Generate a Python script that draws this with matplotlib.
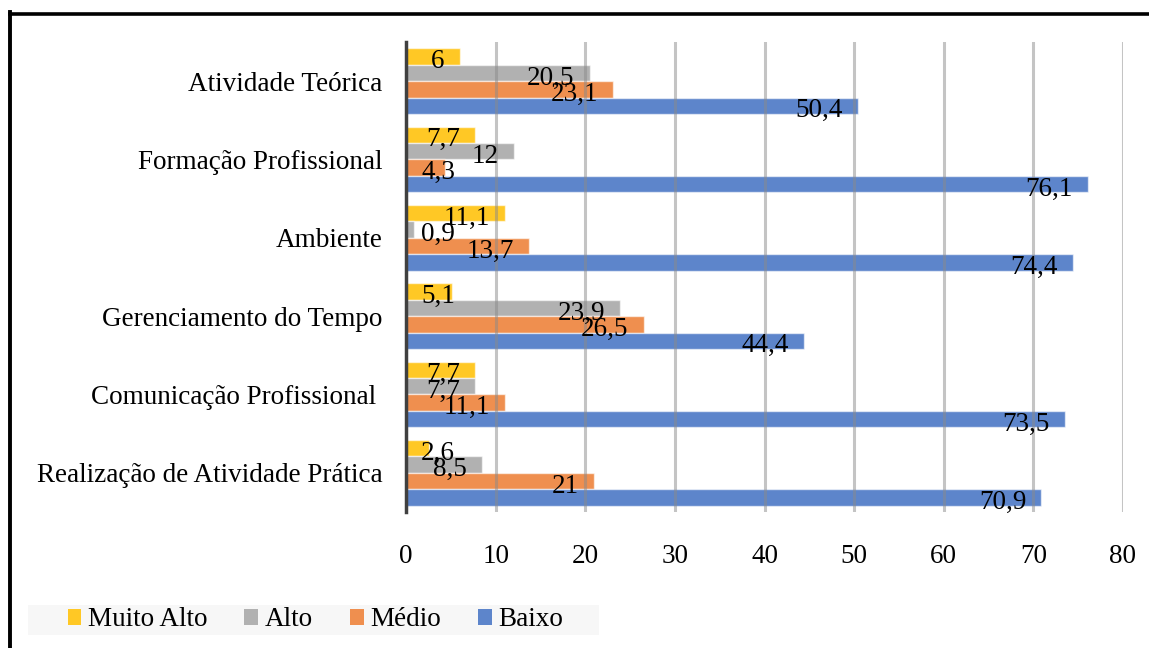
import matplotlib
matplotlib.use("Agg")
import matplotlib.pyplot as plt
from matplotlib.patches import Rectangle, Patch
from matplotlib.lines import Line2D
import numpy as np

plt.rcParams['font.family'] = ['Liberation Serif', 'DejaVu Serif']

categories = ["Atividade Teórica", "Formação Profissional", "Ambiente",
              "Gerenciamento do Tempo", "Comunicação Profissional ",
              "Realização de Atividade Prática"]
series_names = ["Muito Alto", "Alto", "Médio", "Baixo"]
muito_alto = [6, 7.7, 11.1, 5.1, 7.7, 2.6]
alto = [20.5, 12, 0.9, 23.9, 7.7, 8.5]
medio = [23.1, 4.3, 13.7, 26.5, 11.1, 21]
baixo = [50.4, 76.1, 74.4, 44.4, 73.5, 70.9]
xticks = [0, 10, 20, 30, 40, 50, 60, 70, 80]
colors = ["#FFC825", "#B1B1B1", "#EF8F4F", "#5D85CB"]

W, H = 1149, 648
fig = plt.figure(figsize=(W / 100, H / 100), dpi=100)

def fx(px):
    return px / W

def fy(py):
    return 1 - py / H

FS = 19.5

ax = fig.add_axes([fx(406), fy(512), fx(1123) - fx(406), fy(42) - fy(512)])

series = [muito_alto, alto, medio, baixo]
bh = 0.21
offsets = [-0.315, -0.105, 0.105, 0.315]
y = np.arange(len(categories))
for s, vals in enumerate(series):
    ax.barh(y + offsets[s], vals, height=bh, color=colors[s],
            edgecolor=(1, 1, 1, 0.6), linewidth=1.0, zorder=2)

ax.set_xlim(0, 80)
ax.set_ylim(len(categories) - 0.5, -0.5)
ax.set_xticks(xticks)
ax.set_xticklabels([str(t) for t in xticks], fontsize=FS)
ax.set_yticks(y)
ax.set_yticklabels(categories, fontsize=FS)
ax.tick_params(axis='both', length=0)
ax.tick_params(axis='y', pad=17)
ax.tick_params(axis='x', pad=23)
for sp in ['top', 'right', 'bottom']:
    ax.spines[sp].set_visible(False)
ax.spines['left'].set_color('#404040')
ax.spines['left'].set_linewidth(2.5)
ax.spines['left'].set_zorder(5)

for t in xticks[1:]:
    ax.axvline(t, color='#8a8a8a', alpha=0.5, lw=2.2, zorder=3)

def fmt(v):
    return ("%g" % v).replace('.', ',')

fig.canvas.draw()
renderer = fig.canvas.get_renderer()
axbox = ax.get_window_extent(renderer)
for s, vals in enumerate(series):
    for i, v in enumerate(vals):
        yy = y[i] + offsets[s]
        t = ax.annotate(fmt(v), xy=(v, yy), xytext=(-15, -2),
                        textcoords='offset pixels', ha='right',
                        va='center_baseline', fontsize=FS, zorder=6)
        bb = t.get_window_extent(renderer)
        if bb.x0 < axbox.x0 + 15:
            t.remove()
            ax.annotate(fmt(v), xy=(0, yy), xytext=(15, -2),
                        textcoords='offset pixels', ha='left',
                        va='center_baseline', fontsize=FS, zorder=6)

# legend background
fig.add_artist(Rectangle((fx(28), fy(635)), fx(599) - fx(28), fy(605) - fy(635),
                         transform=fig.transFigure, facecolor='#F7F7F7',
                         edgecolor='none', zorder=0))
handles = [Patch(facecolor=c, edgecolor='none') for c in colors]
fig.legend(handles, series_names, loc='center left',
           bbox_to_anchor=(fx(54), fy(620)), ncol=4, frameon=False,
           fontsize=FS, handlelength=0.5, handleheight=0.5,
           handletextpad=0.25, columnspacing=1.37, borderpad=0.0)

# outer frame
fig.add_artist(Line2D([fx(10), fx(1160)], [fy(13.5), fy(13.5)],
                      transform=fig.transFigure, color='black', lw=2.6))
fig.add_artist(Line2D([fx(10), fx(10)], [fy(12.2), fy(660)],
                      transform=fig.transFigure, color='black', lw=2.8))

fig.savefig("out.png", dpi=100)
